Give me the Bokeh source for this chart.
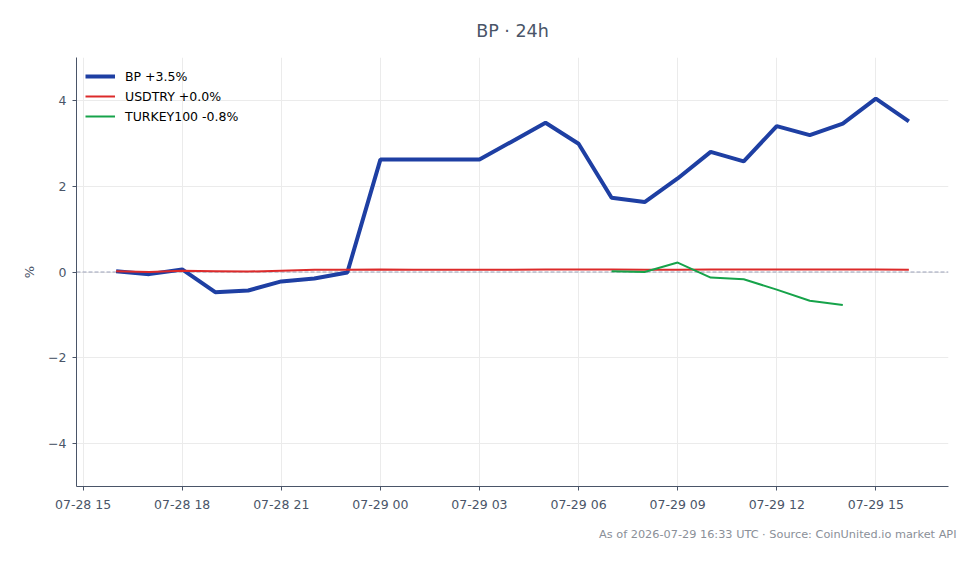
import pandas as pd
from bokeh.plotting import figure
from bokeh.models import (Span, Title, FixedTicker, DatetimeTickFormatter, Range1d,
                          Legend, LegendItem)
from bokeh.embed import file_html
from bokeh.resources import INLINE

# ---- data ----
hours = pd.date_range("2026-07-28 16:00", "2026-07-29 16:00", freq="h")
bp = [0.02, -0.05, 0.06, -0.47, -0.43, -0.22, -0.15, -0.01,
      2.62, 2.62, 2.62, 2.62, 3.05, 3.48, 2.99, 1.73, 1.63,
      2.18, 2.80, 2.58, 3.40, 3.19, 3.46, 4.04, 3.51]
usdtry = [0.02, 0.00, 0.03, 0.02, 0.01, 0.03, 0.05, 0.05,
          0.06, 0.055, 0.055, 0.055, 0.055, 0.06, 0.06, 0.06, 0.055,
          0.055, 0.06, 0.06, 0.06, 0.06, 0.06, 0.06, 0.055]
turkey_hours = hours[15:23]
turkey = [0.02, 0.00, 0.22, -0.13, -0.17, -0.41, -0.67, -0.77]
series_labels = ["BP +3.5%", "USDTRY +0.0%", "TURKEY100 -0.8%"]
series_colors = ["#1e3fa3", "#dc2a2a", "#16a34a"]

x_tick_times = pd.to_datetime(["2026-07-28 15:00", "2026-07-28 18:00", "2026-07-28 21:00",
                               "2026-07-29 00:00", "2026-07-29 03:00", "2026-07-29 06:00",
                               "2026-07-29 09:00", "2026-07-29 12:00", "2026-07-29 15:00"])
y_ticks = [-4, -2, 0, 2, 4]
y_tick_labels = ["\u22124", "\u22122", "0", "2", "4"]

title_text = "BP \u00b7 24h"
footer_text = "As of 2026-07-29 16:33 UTC \u00b7 Source: CoinUnited.io market API"

# ---- figure ----
pad = pd.Timedelta(minutes=72)
p = figure(width=980, height=564, x_axis_type="datetime", output_backend="svg",
           toolbar_location=None,
           x_range=Range1d(hours[0] - pad, hours[-1] + pad),
           y_range=Range1d(-5, 5),
           min_border_left=76, min_border_right=32, min_border_top=57, min_border_bottom=78)
p.outline_line_color = None
p.background_fill_color = "white"
p.border_fill_color = "white"

FONT = "DejaVu Sans"
AX = "#4a5568"

p.title.text = title_text
p.title.align = "center"
p.title.text_font = FONT
p.title.text_font_size = "17.5px"
p.title.text_font_style = "normal"
p.title.text_color = AX
p.title.standoff = 34

footer = Title(text=footer_text, align="right", text_font=FONT, text_font_size="11.3px",
               text_font_style="normal", text_color="#8a8f98", offset=-8, standoff=23)
p.add_layout(footer, "below")

zero = Span(location=0, dimension="width", line_color="#9aa0b8", line_width=1,
            line_dash="4 2", level="underlay")
p.add_layout(zero)

r1 = p.line(hours, bp, line_color=series_colors[0], line_width=4)
r2 = p.line(hours, usdtry, line_color=series_colors[1], line_width=2)
r3 = p.line(turkey_hours, turkey, line_color=series_colors[2], line_width=2)

legend = Legend(items=[LegendItem(label=series_labels[0], renderers=[r1]),
                       LegendItem(label=series_labels[1], renderers=[r2]),
                       LegendItem(label=series_labels[2], renderers=[r3])],
                location="top_left", border_line_color=None, background_fill_alpha=0,
                label_text_font=FONT, label_text_font_size="12.5px", label_text_color="black",
                glyph_width=30, glyph_height=20, label_height=20, label_standoff=10,
                spacing=0, margin=9, padding=5)
p.add_layout(legend)

# axes
p.xaxis.ticker = FixedTicker(ticks=[t.value / 1e6 for t in x_tick_times])
fmt = "%m-%d %H"
p.xaxis.formatter = DatetimeTickFormatter(hours=fmt, hourmin=fmt, days=fmt, minutes=fmt, minsec=fmt)
p.yaxis.ticker = FixedTicker(ticks=y_ticks)
p.yaxis.major_label_overrides = {t: l for t, l in zip(y_ticks, y_tick_labels)}
p.yaxis.axis_label = "%"

for ax in (p.xaxis[0], p.yaxis[0]):
    ax.axis_line_color = AX
    ax.axis_line_width = 1
    ax.major_tick_line_color = AX
    ax.major_tick_out = 4
    ax.major_tick_in = 0
    ax.minor_tick_line_color = None
    ax.major_label_text_font = FONT
    ax.major_label_text_font_size = "12.5px"
    ax.major_label_text_color = AX
    ax.major_label_standoff = 6
    ax.axis_label_text_font = FONT
    ax.axis_label_text_font_size = "13px"
    ax.axis_label_text_font_style = "normal"
    ax.axis_label_text_color = AX
p.yaxis.axis_label_standoff = 8

p.xgrid.ticker = p.xaxis.ticker
p.ygrid.ticker = p.yaxis.ticker
p.grid.grid_line_color = "#ebebeb"
p.grid.grid_line_width = 1

open("out.html", "w").write(file_html(p, INLINE))
